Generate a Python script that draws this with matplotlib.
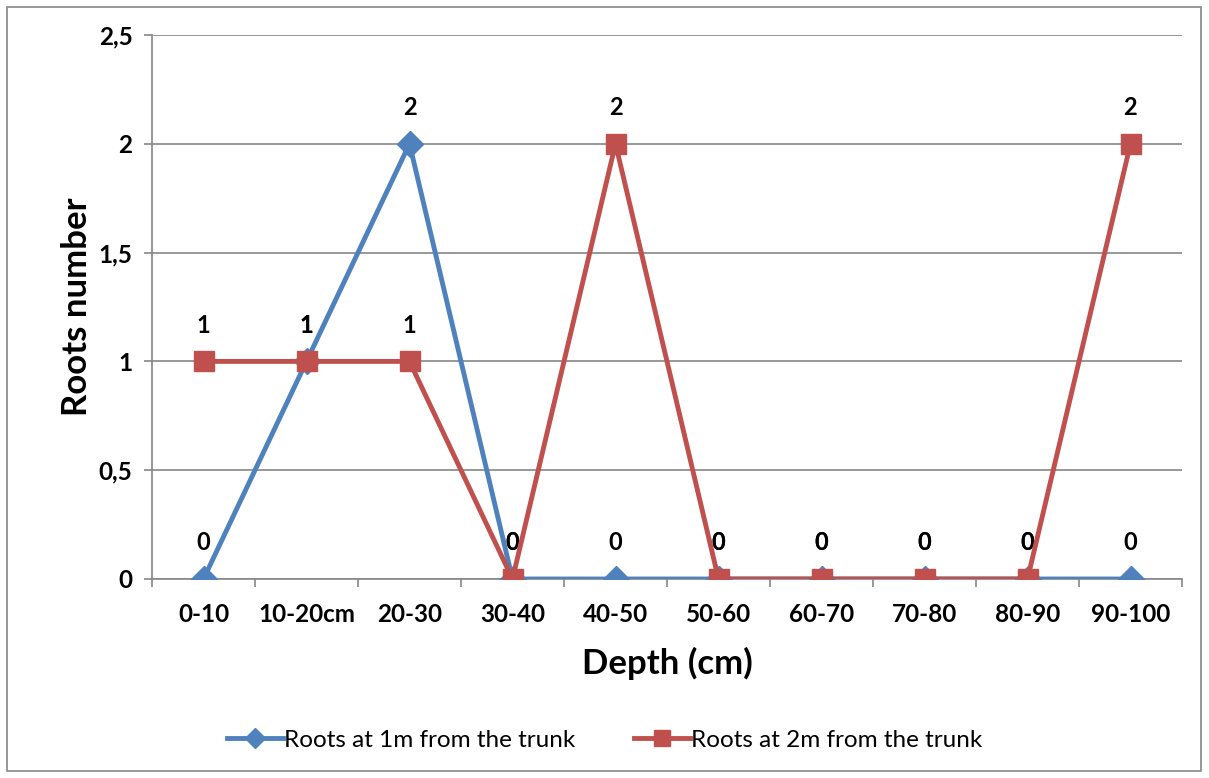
import matplotlib.pyplot as plt
from matplotlib.patches import Rectangle

depths = ["0-10", "10-20cm", "20-30", "30-40", "40-50", "50-60", "60-70", "70-80", "80-90", "90-100"]
roots_1m = [0, 1, 2, 0, 0, 0, 0, 0, 0, 0]
roots_2m = [1, 1, 1, 0, 2, 0, 0, 0, 0, 2]
y_ticks = [0, 0.5, 1, 1.5, 2, 2.5]
y_tick_labels = ["0", "0,5", "1", "1,5", "2", "2,5"]

plt.rcParams['font.family'] = ['Lato', 'DejaVu Sans']

fig = plt.figure(figsize=(12.09, 7.78), dpi=100)
ax = fig.add_axes([152/1209, 1 - 579/778, (1182 - 152)/1209, (579 - 35)/778])

# outer chart border
fig.patches.append(Rectangle((7/1209, 7/778), 1194/1209, 764/778, transform=fig.transFigure,
                             fill=False, edgecolor="#868686", linewidth=1.2))

x = list(range(len(depths)))
blue = "#4F81BD"
red = "#C0504D"
ax.plot(x, roots_1m, color=blue, linewidth=3.5, marker="D", markersize=13, zorder=4,
        label="Roots at 1m from the trunk")
ax.plot(x, roots_2m, color=red, linewidth=3.5, marker="s", markersize=14.5, zorder=5,
        label="Roots at 2m from the trunk")

for series in (roots_1m, roots_2m):
    for xi, v in zip(x, series):
        ax.annotate(f"{v:g}", (xi, v), xytext=(0, 26), textcoords="offset points",
                    ha="center", va="center", fontsize=17, fontweight="bold", zorder=2)

ax.set_xlim(-0.5, len(depths) - 0.5)
ax.set_ylim(0, 2.5)
ax.set_yticks(y_ticks)
ax.set_yticklabels(y_tick_labels, fontsize=17.5, fontweight="bold")
ax.set_xticks(x)
ax.set_xticklabels(depths, fontsize=17.5, fontweight="bold")
ax.set_xticks([i - 0.5 for i in range(len(depths) + 1)], minor=True)
ax.tick_params(axis="x", which="major", length=0, pad=17)
ax.tick_params(axis="x", which="minor", length=6, color="#868686", width=1.2)
ax.tick_params(axis="y", length=6, color="#868686", width=1.2, pad=8)

ax.grid(axis="y", color="#868686", linewidth=1.2)
ax.set_axisbelow(True)
for s in ("top", "right"):
    ax.spines[s].set_visible(False)
for s in ("left", "bottom"):
    ax.spines[s].set_color("#868686")
    ax.spines[s].set_linewidth(1.2)

ax.set_xlabel("Depth (cm)", fontsize=25, fontweight="bold", labelpad=15)
ax.set_ylabel("Roots number", fontsize=25, fontweight="bold", labelpad=4)

fig.legend(loc="center", bbox_to_anchor=(0.5, 1 - 740/778), ncol=2, frameon=False,
           fontsize=17.5, handlelength=2.3, columnspacing=2.4, handletextpad=0.05,
           markerscale=0.8)

fig.savefig("out.png", dpi=100)
